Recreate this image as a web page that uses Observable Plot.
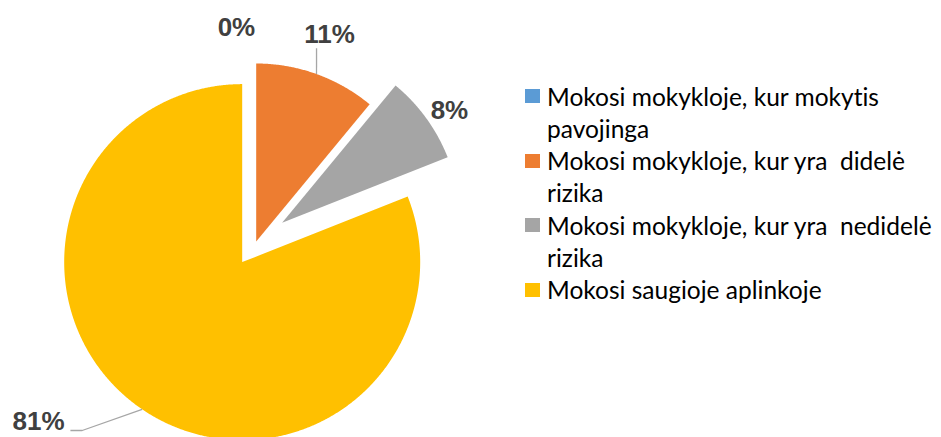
<!DOCTYPE html>
<html>
<head>
<meta charset="utf-8">
<script src="https://cdn.jsdelivr.net/npm/d3@7"></script>
<script src="https://cdn.jsdelivr.net/npm/@observablehq/plot@0.6"></script>
<style>
  body { margin: 0; background: #fff; }
  #wrap { position: relative; width: 941px; height: 437px; overflow: hidden; }
  #legend { position: absolute; left: 525px; top: 80.5px; font-family: Lato, "Open Sans", sans-serif; color: #000; line-height: 32.3px; font-variant-ligatures: none; font-feature-settings: "liga" 0, "clig" 0; }
  .item { display: flex; align-items: flex-start; }
  .sw { width: 15px; height: 14px; margin-top: 8.5px; margin-right: 7px; flex: none; }
  .txt { white-space: pre; }
</style>
</head>
<body>
<div id="wrap"><div id="chart"></div><div id="legend"></div></div>
<script>
// ---- data ----
const categories = [
  "Mokosi mokykloje, kur mokytis\npavojinga",
  "Mokosi mokykloje, kur yra  didelė\nrizika",
  "Mokosi mokykloje, kur yra  nedidelė\nrizika",
  "Mokosi saugioje aplinkoje"
];
const shares = [0, 11, 8, 81];
const valueLabels = ["0%", "11%", "8%", "81%"];
const colors = ["#5B9BD5", "#ED7D31", "#A5A5A5", "#FFC000"];

// ---- layout (in radius units) ----
const R = 178, CX = 255.7, CY = 241;
const explode = [0, 0, 0.18, 0.14];
const labelOffset = [[-0.111, 1.202], [0.412, 1.163], [0.940, 0.628], [-1.144, -0.895]];
const leaderBends = [null, [[0.339, 1.086]], null, [[-0.899, -0.946], [-0.965, -0.946]]];

const arcs = d3.pie().sort(null).startAngle(0).endAngle(2 * Math.PI)(shares);
const wedgePts = [], labelData = [], leaderPts = [];
arcs.forEach((a, i) => {
  const cat = categories[i];
  const mid = (a.startAngle + a.endAngle) / 2;
  const ox = explode[i] * Math.sin(mid), oy = explode[i] * Math.cos(mid);
  if (a.endAngle - a.startAngle > 0) {
    wedgePts.push({cat, x: ox, y: oy});
    const n = Math.max(2, Math.ceil((a.endAngle - a.startAngle) / 0.005));
    for (let k = 0; k <= n; k++) {
      const t = a.startAngle + (a.endAngle - a.startAngle) * k / n;
      wedgePts.push({cat, x: ox + Math.sin(t), y: oy + Math.cos(t)});
    }
  }
  labelData.push({text: valueLabels[i], x: ox + labelOffset[i][0], y: oy + labelOffset[i][1]});
  if (leaderBends[i]) {
    leaderPts.push({id: i, x: ox + Math.sin(mid), y: oy + Math.cos(mid)});
    leaderBends[i].forEach(p => leaderPts.push({id: i, x: ox + p[0], y: oy + p[1]}));
  }
});

const chart = Plot.plot({
  width: 941,
  height: 437,
  margin: 0,
  x: {domain: [-CX / R, (941 - CX) / R], axis: null},
  y: {domain: [(CY - 437) / R, CY / R], axis: null},
  color: {domain: categories, range: colors},
  style: {background: "#fff"},
  marks: [
    Plot.line(wedgePts, {x: "x", y: "y", z: "cat", fill: "cat", stroke: "none", curve: "linear-closed"}),
    Plot.line(leaderPts, {x: "x", y: "y", z: "id", stroke: "#A6A6A6", strokeWidth: 1.3, strokeLinecap: "butt"}),
    Plot.text(labelData, {x: "x", y: "y", text: "text", fontSize: 26, fontWeight: "bold", fill: "#404040", fontFamily: "'Liberation Sans', Arial, sans-serif"})
  ]
});
document.getElementById("chart").appendChild(chart);

// legend
const ctx = document.createElement("canvas").getContext("2d");
ctx.font = "100px Lato";
const w = ctx.measureText("Mokosi mokykloje, kur mokytis").width;
const fs = 100 * 333 / w;
const legend = document.getElementById("legend");
legend.style.fontSize = fs + "px";
categories.forEach((c, i) => {
  const item = document.createElement("div");
  item.className = "item";
  const sw = document.createElement("div");
  sw.className = "sw";
  sw.style.background = colors[i];
  const t = document.createElement("div");
  t.className = "txt";
  t.textContent = c;
  item.appendChild(sw);
  item.appendChild(t);
  legend.appendChild(item);
});
</script>
</body>
</html>
